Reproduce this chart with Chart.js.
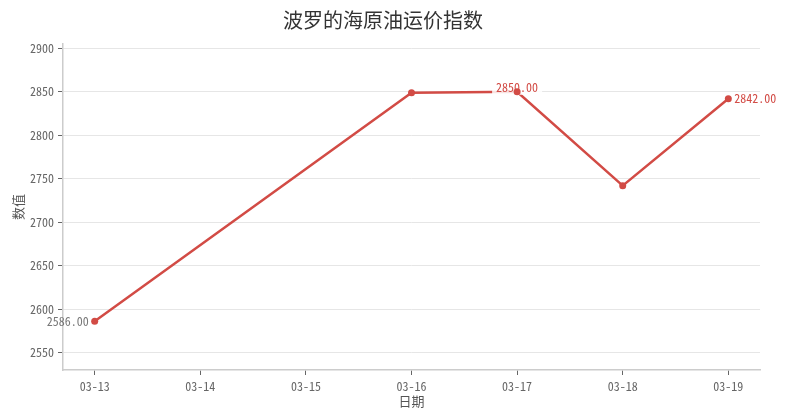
<!DOCTYPE html>
<html>
<head>
<meta charset="utf-8">
<script src="https://cdn.jsdelivr.net/npm/chart.js@4/dist/chart.umd.min.js"></script>
<style>
html,body{margin:0;padding:0;background:#fff;}
#wrap{width:792px;height:420px;}
</style>
</head>
<body>
<div id="wrap"><canvas id="c" width="792" height="420"></canvas></div>
<script>
const categories = ['03-13','03-14','03-15','03-16','03-17','03-18','03-19'];
const values = [2586, null, null, 2849, 2850, 2742, 2842];
const yTicks = [2550, 2600, 2650, 2700, 2750, 2800, 2850, 2900];
const labelIdx = {first: 0, max: 4, last: 6};

const MONO = "'Noto Sans Mono CJK SC','Noto Sans CJK SC','DejaVu Sans Mono',monospace";
const CJK = "'Noto Sans CJK SC','Noto Sans',sans-serif";
const RED = '#d24b45';

const pts = categories.map((c, i) => ({x: i, y: values[i]}));

const labelPlugin = {
  id: 'valLabels',
  afterDatasetDraw(chart, args) {
    if (args.index !== 0) return;
    const meta = chart.getDatasetMeta(0);
    const ctx = chart.ctx;
    ctx.save();
    ctx.font = '12px ' + MONO;
    ctx.textBaseline = 'middle';
    // first
    let p = meta.data[labelIdx.first];
    ctx.fillStyle = '#777';
    ctx.textAlign = 'right';
    ctx.fillText(values[labelIdx.first].toFixed(2), p.x - 6, p.y);
    // max
    p = meta.data[labelIdx.max];
    const t = values[labelIdx.max].toFixed(2);
    const w = ctx.measureText(t).width;
    ctx.fillStyle = 'rgba(255,255,255,0.85)';
    ctx.fillRect(p.x - w / 2 - 4, p.y - 12, w + 8, 15);
    ctx.fillStyle = RED;
    ctx.textAlign = 'center';
    ctx.fillText(t, p.x, p.y - 4);
    // last
    p = meta.data[labelIdx.last];
    ctx.textAlign = 'left';
    ctx.fillText(values[labelIdx.last].toFixed(2), p.x + 6, p.y);
    ctx.restore();
  }
};

new Chart(document.getElementById('c'), {
  type: 'line',
  data: {
    datasets: [
      {data: pts, borderColor: RED, borderWidth: 2.5, pointRadius: 0, spanGaps: true, tension: 0, order: 2, fill: false},
      {data: pts, showLine: false, pointRadius: 3.5, pointHoverRadius: 3.5, pointBackgroundColor: RED, pointBorderColor: RED, pointBorderWidth: 0, order: 1}
    ]
  },
  options: {
    responsive: false,
    animation: false,
    devicePixelRatio: 1,
    layout: {padding: {left: 6, right: 32, top: 0, bottom: 7}},
    plugins: {
      legend: {display: false},
      tooltip: {enabled: false},
      title: {display: true, text: '波罗的海原油运价指数', color: '#333', font: {size: 20, family: CJK, weight: 'normal'}, padding: {top: 8, bottom: 12}}
    },
    scales: {
      x: {
        type: 'linear', min: -0.3, max: 6.3,
        afterBuildTicks: s => { s.ticks = categories.map((c, i) => ({value: i})); },
        afterFit: s => { s.height = 43; },
        ticks: {callback: v => categories[v], color: '#666', font: {size: 12, family: MONO}, padding: 4, maxRotation: 0, autoSkip: false},
        grid: {display: true, drawOnChartArea: false, tickLength: 5, tickColor: '#666'},
        border: {color: '#ccc', width: 1.5},
        title: {display: true, text: '日期', color: '#555', font: {size: 13, family: CJK}, padding: 4}
      },
      y: {
        min: 2530, max: 2905,
        afterBuildTicks: s => { s.ticks = yTicks.map(v => ({value: v})); },
        afterFit: s => { s.width = 57; },
        ticks: {callback: v => String(v), color: '#666', font: {size: 12, family: MONO}, padding: 4},
        grid: {color: '#e6e6e6', tickLength: 5, tickColor: '#666', lineWidth: 1},
        border: {color: '#ccc', width: 1.5},
        title: {display: true, text: '数值', color: '#555', font: {size: 13, family: CJK}, padding: 4}
      }
    }
  },
  plugins: [labelPlugin]
});
</script>
</body>
</html>
